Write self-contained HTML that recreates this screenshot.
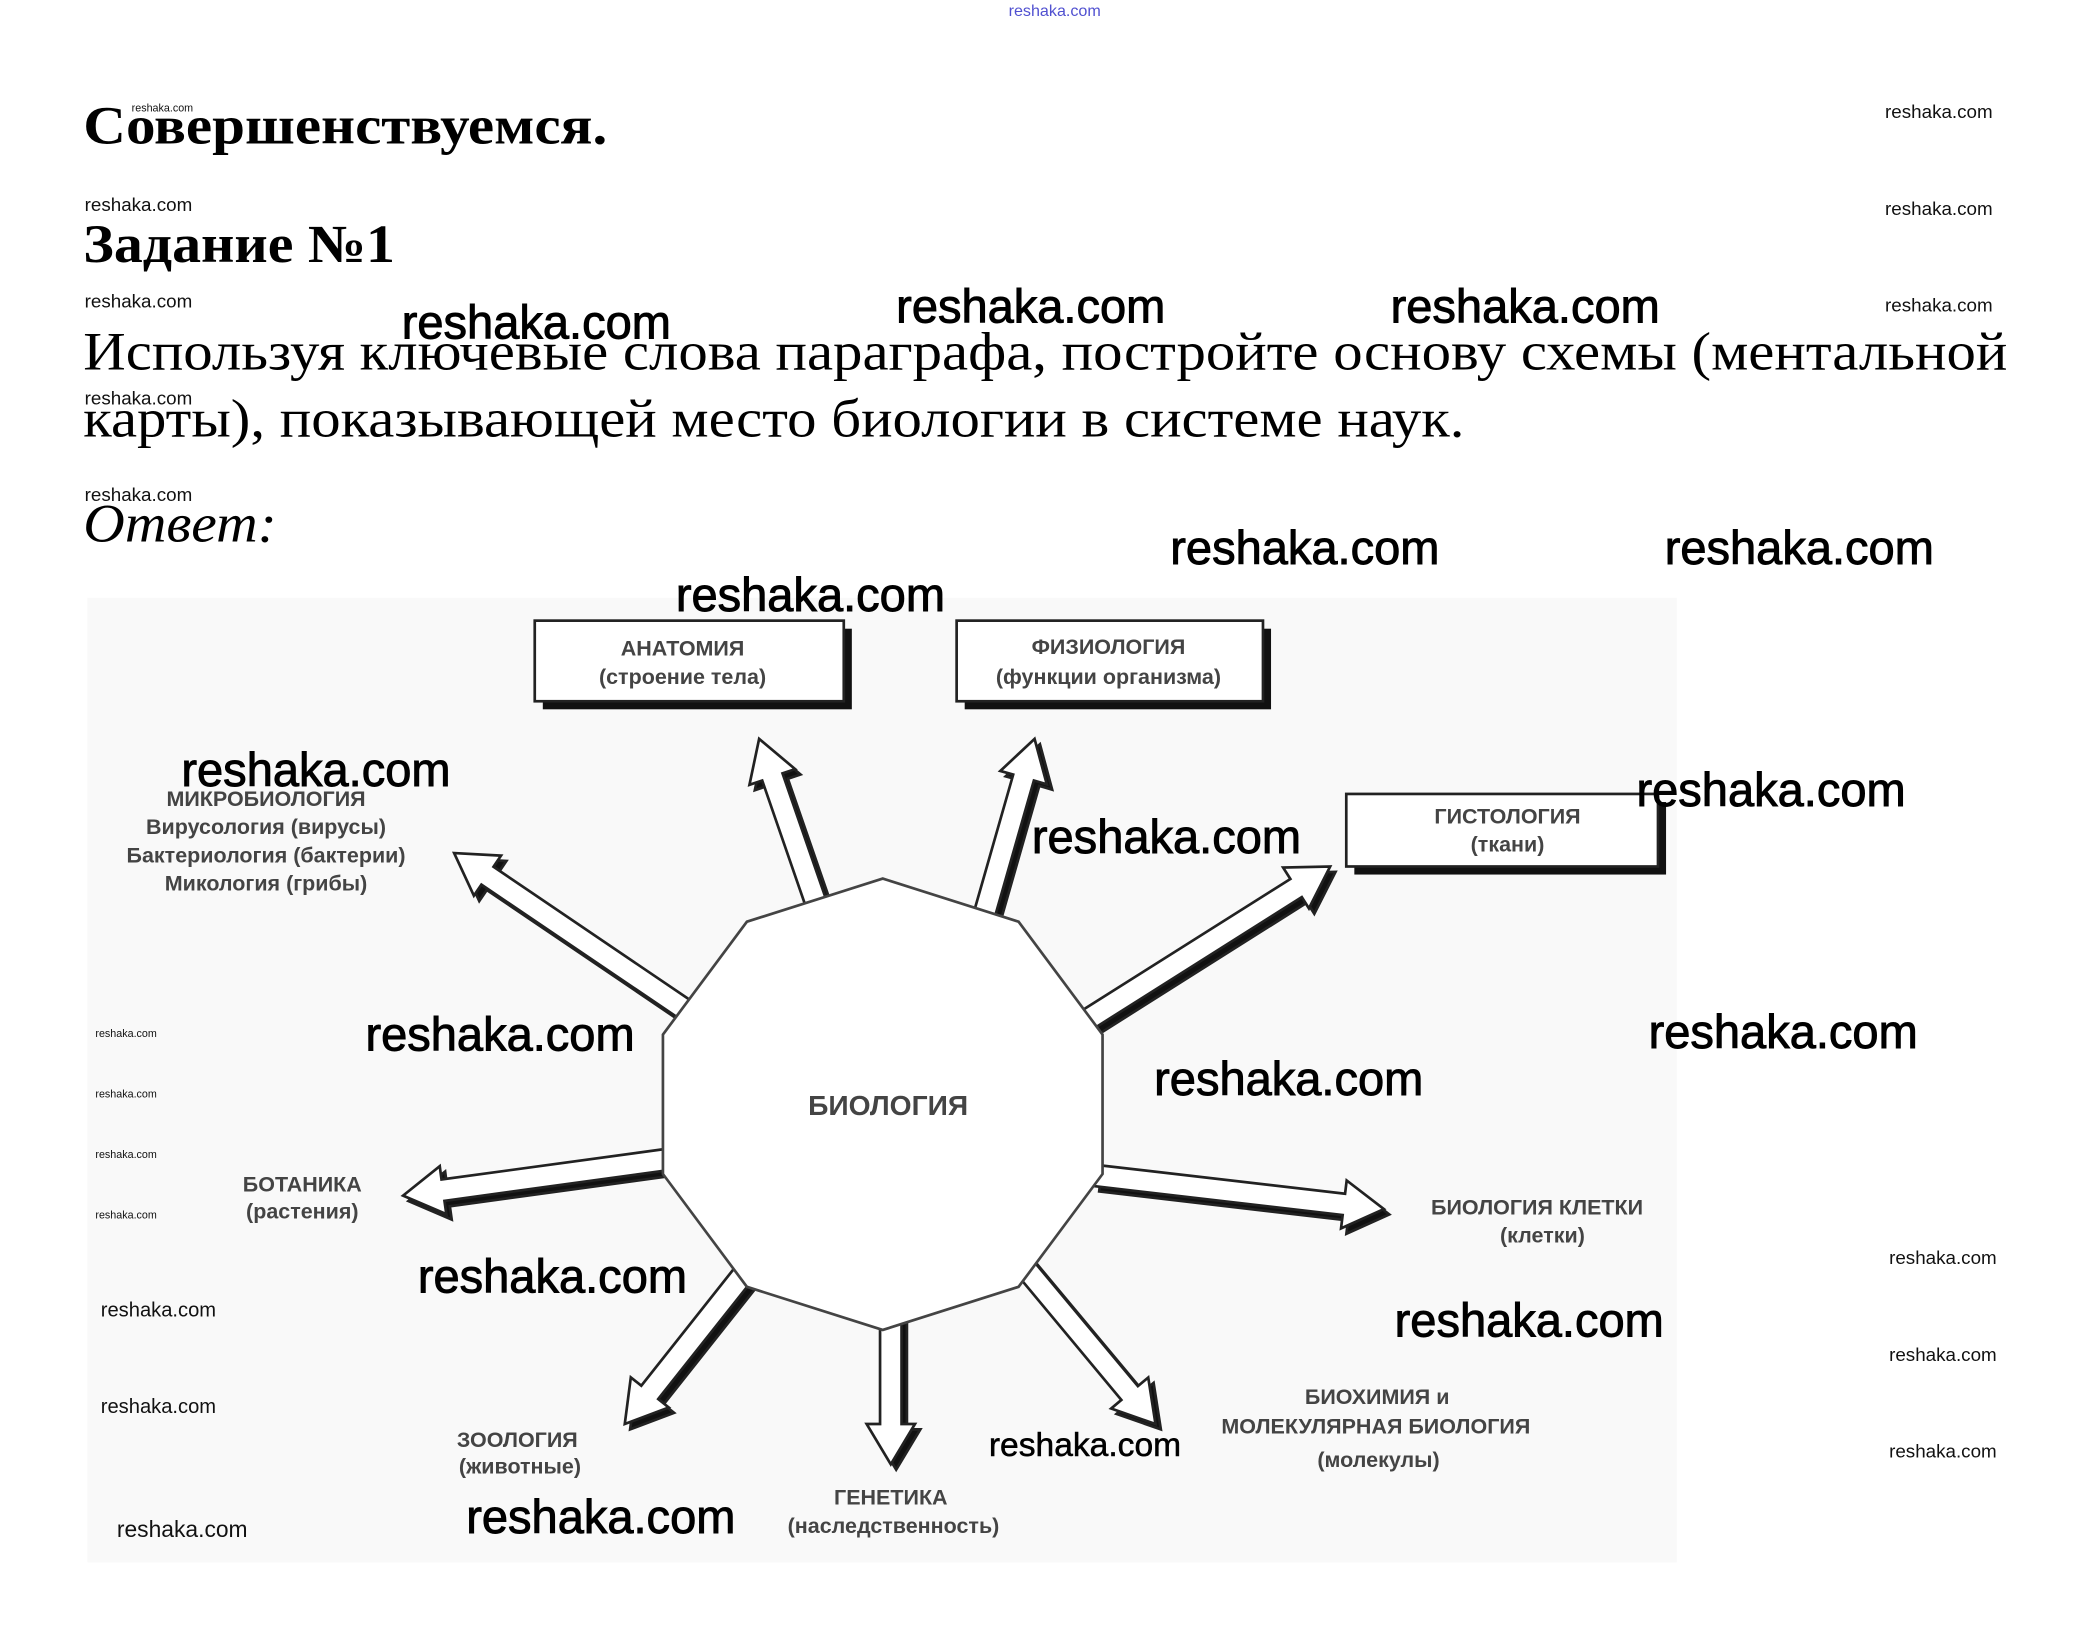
<!DOCTYPE html>
<html><head><meta charset="utf-8"><style>
html,body{margin:0;padding:0;background:#fff;}
svg{display:block;}
.w{font-family:"Liberation Sans",sans-serif;fill:#111;}
.wb{font-family:"Liberation Sans",sans-serif;fill:#000;font-size:35px;stroke:#000;stroke-width:0.7px;}
.s{font-family:"Liberation Serif","Noto Serif CJK SC",serif;fill:#000;}
.d{font-family:"Liberation Sans",sans-serif;fill:#444;font-weight:bold;text-anchor:middle;font-size:16px;}
</style></head><body>
<svg id="sv" width="2096" height="1647" viewBox="0 0 1560 1226" xmlns="http://www.w3.org/2000/svg" preserveAspectRatio="none">
<rect x="0" y="0" width="1560" height="1226" fill="#fff"/>
<rect x="65" y="445" width="1183" height="718" fill="#f9f9f9"/>
<text x="785" y="12" class="w" font-size="12" style="fill:#5050d0" text-anchor="middle">reshaka.com</text>
<text x="62" y="107" class="s" font-size="40" font-weight="bold" textLength="390" lengthAdjust="spacingAndGlyphs">Совершенствуемся.</text>
<text x="98" y="83" class="w" font-size="8">reshaka.com</text>
<text x="62" y="195" class="s" font-size="40" font-weight="bold" textLength="232" lengthAdjust="spacingAndGlyphs">Задание №1</text>
<text x="62" y="275" class="s" font-size="40" textLength="1432" lengthAdjust="spacingAndGlyphs">Используя ключевые слова параграфа, постройте основу схемы (ментальной</text>
<text x="62" y="325" class="s" font-size="40" textLength="1028" lengthAdjust="spacingAndGlyphs">карты), показывающей место биологии в системе наук.</text>
<text x="62" y="403" class="s" font-size="40" font-style="italic" textLength="144" lengthAdjust="spacingAndGlyphs">Ответ:</text>
<g class="w" font-size="14">
<text x="1403" y="88">reshaka.com</text><text x="1403" y="160">reshaka.com</text><text x="1403" y="232">reshaka.com</text>
<text x="63" y="157">reshaka.com</text><text x="63" y="229">reshaka.com</text><text x="63" y="301">reshaka.com</text><text x="63" y="373">reshaka.com</text>
<text x="1406" y="941">reshaka.com</text><text x="1406" y="1013">reshaka.com</text><text x="1406" y="1085">reshaka.com</text>
<text x="75" y="980" font-size="15">reshaka.com</text><text x="75" y="1052" font-size="15">reshaka.com</text><text x="87" y="1144" font-size="17">reshaka.com</text>
<text x="71" y="772" font-size="8">reshaka.com</text><text x="71" y="817" font-size="8">reshaka.com</text><text x="71" y="862" font-size="8">reshaka.com</text><text x="71" y="907" font-size="8">reshaka.com</text>
</g>
<g stroke="#222" fill="#fff">
<rect x="404" y="468" width="230" height="60" fill="#111" stroke="none"/>
<rect x="398" y="462" width="230" height="60" stroke-width="2"/>
<rect x="718" y="468" width="228" height="60" fill="#111" stroke="none"/>
<rect x="712" y="462" width="228" height="60" stroke-width="2"/>
<rect x="1008" y="597" width="232" height="54" fill="#111" stroke="none"/>
<rect x="1002" y="591" width="232" height="54" stroke-width="2"/>
</g>
<g id="arrows"></g>
<polygon id="oct" fill="#fff" stroke="#444" stroke-width="2"/>
<g class="d">
<text x="508" y="488">АНАТОМИЯ</text><text x="508" y="509">(строение тела)</text>
<text x="825" y="487">ФИЗИОЛОГИЯ</text><text x="825" y="509">(функции организма)</text>
<text x="1122" y="613">ГИСТОЛОГИЯ</text><text x="1122" y="634">(ткани)</text>
<text x="198" y="600">МИКРОБИОЛОГИЯ</text><text x="198" y="621">Вирусология (вирусы)</text><text x="198" y="642">Бактериология (бактерии)</text><text x="198" y="663">Микология (грибы)</text>
<text x="661" y="830" font-size="21">БИОЛОГИЯ</text>
<text x="225" y="887">БОТАНИКА</text><text x="225" y="907">(растения)</text>
<text x="1144" y="904">БИОЛОГИЯ КЛЕТКИ</text><text x="1148" y="925">(клетки)</text>
<text x="385" y="1077">ЗООЛОГИЯ</text><text x="387" y="1097">(животные)</text>
<text x="663" y="1120">ГЕНЕТИКА</text><text x="665" y="1141">(наследственность)</text>
<text x="1025" y="1045">БИОХИМИЯ и</text><text x="1024" y="1067">МОЛЕКУЛЯРНАЯ БИОЛОГИЯ</text><text x="1026" y="1092">(молекулы)</text>
</g>
<g class="wb">
<text x="299" y="252">reshaka.com</text><text x="667" y="240">reshaka.com</text><text x="1035" y="240">reshaka.com</text>
<text x="871" y="420">reshaka.com</text><text x="1239" y="420">reshaka.com</text><text x="503" y="455">reshaka.com</text>
<text x="135" y="585">reshaka.com</text><text x="1218" y="600">reshaka.com</text><text x="768" y="635">reshaka.com</text>
<text x="272" y="782">reshaka.com</text><text x="1227" y="780">reshaka.com</text><text x="859" y="815">reshaka.com</text>
<text x="311" y="962">reshaka.com</text><text x="1038" y="995">reshaka.com</text><text x="347" y="1141">reshaka.com</text>
<text x="736" y="1084" font-size="25" stroke-width="0.4">reshaka.com</text>
</g>
</svg>
<script>
(function(){
var NS="http://www.w3.org/2000/svg";
var cx=657,cy=822,pts=[];
for(var i=0;i<10;i++){var a=-Math.PI/2+i*Math.PI/5;pts.push((cx+172*Math.cos(a)).toFixed(1)+","+(cy+168*Math.sin(a)).toFixed(1));}
document.getElementById("oct").setAttribute("points",pts.join(" "));
var A=[[610,680,565,550],[730,690,770,550],[515,755,338,635],[800,765,990,645],[505,862,300,890],[815,875,1030,900],[560,940,465,1060],[663,980,663,1090],[760,940,860,1060]];
var g=document.getElementById("arrows");
function poly(x1,y1,x2,y2,dx,dy,fill){
 var vx=x2-x1,vy=y2-y1,L=Math.hypot(vx,vy);vx/=L;vy/=L;var nx=-vy,ny=vx;
 var w=8,h=18,hl=30;var bx=x2-vx*hl,by=y2-vy*hl;
 var p=[[x1+nx*w,y1+ny*w],[bx+nx*w,by+ny*w],[bx+nx*h,by+ny*h],[x2,y2],[bx-nx*h,by-ny*h],[bx-nx*w,by-ny*w],[x1-nx*w,y1-ny*w]];
 var e=document.createElementNS(NS,"polygon");
 e.setAttribute("points",p.map(function(q){return (q[0]+dx).toFixed(1)+","+(q[1]+dy).toFixed(1)}).join(" "));
 e.setAttribute("fill",fill);e.setAttribute("stroke","#222");e.setAttribute("stroke-width","2");
 g.appendChild(e);
}
A.forEach(function(a){poly(a[0],a[1],a[2],a[3],4,4,"#111");poly(a[0],a[1],a[2],a[3],0,0,"#fff");});
})();
</script>
</body></html>
